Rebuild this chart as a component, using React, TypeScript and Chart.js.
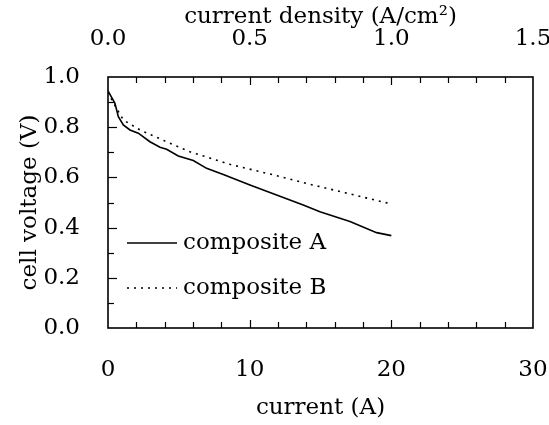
import React, { useEffect, useRef } from "react";
import { Chart, registerables } from "chart.js";

Chart.register(...registerables);

const currentA = [0, 0.49, 0.73, 1.08, 1.55, 2.14, 2.96, 3.67, 4.14, 4.96, 6.02, 6.96, 8.14, 10.02, 11.9, 13.78, 14.96, 17.08, 18.96, 20.0];
const voltageA = [0.945, 0.895, 0.842, 0.809, 0.789, 0.776, 0.742, 0.72, 0.712, 0.685, 0.667, 0.636, 0.612, 0.57, 0.53, 0.49, 0.463, 0.424, 0.38, 0.368];
const currentB = [0, 0.3, 0.61, 1.08, 2.26, 4.14, 5.79, 8.6, 11.67, 14.0, 16.73, 20.0];
const voltageB = [0.94, 0.905, 0.875, 0.829, 0.789, 0.742, 0.702, 0.652, 0.61, 0.576, 0.539, 0.494];
const seriesNames = ["composite A", "composite B"];
const xTicks = [0, 10, 20, 30];
const yTicks = [0.0, 0.2, 0.4, 0.6, 0.8, 1.0];
const topTicks = [0.0, 0.5, 1.0, 1.5];

const FONT = "'DejaVu Serif', serif";
const FS = 23;

const tickPlugin = {
  id: "insideTicks",
  afterDraw(chart: any) {
    const { ctx, chartArea } = chart;
    const x = chart.scales.x;
    const y = chart.scales.y;
    ctx.save();
    ctx.strokeStyle = "#000";
    ctx.lineWidth = 1.6;
    ctx.strokeRect(chartArea.left, chartArea.top, chartArea.right - chartArea.left, chartArea.bottom - chartArea.top);
    ctx.lineWidth = 1.2;
    for (let v = 2; v < 30; v += 2) {
      const px = Math.round(x.getPixelForValue(v)) + 0.5;
      const len = v % 10 === 0 ? 8 : 6;
      ctx.beginPath();
      ctx.moveTo(px, chartArea.bottom);
      ctx.lineTo(px, chartArea.bottom - len);
      ctx.moveTo(px, chartArea.top);
      ctx.lineTo(px, chartArea.top + len);
      ctx.stroke();
    }
    for (let i = 1; i < 10; i++) {
      const v = i / 10;
      const py = Math.round(y.getPixelForValue(v)) + 0.5;
      const len = i % 2 === 0 ? 9 : 6;
      ctx.beginPath();
      ctx.moveTo(chartArea.left, py);
      ctx.lineTo(chartArea.left + len, py);
      ctx.stroke();
    }
    // legend
    const ds = chart.data.datasets;
    const rows = [243, 288];
    ds.forEach((d: any, i: number) => {
      const ly = rows[i];
      ctx.beginPath();
      ctx.lineWidth = d.borderWidth;
      ctx.setLineDash(d.borderDash || []);
      ctx.moveTo(127, ly);
      ctx.lineTo(177, ly);
      ctx.stroke();
      ctx.setLineDash([]);
      ctx.fillStyle = "#000";
      ctx.font = `${FS}px ${FONT}`;
      ctx.textBaseline = "middle";
      ctx.textAlign = "left";
      ctx.fillText(d.label, 183, ly);
    });
    ctx.restore();
  },
};

const noPad = (s: any) => {
  s.paddingLeft = 0;
  s.paddingRight = 0;
  s.paddingTop = 0;
  s.paddingBottom = 0;
};

export default function App() {
  const ref = useRef<HTMLCanvasElement>(null);
  useEffect(() => {
    if (!ref.current) return;
    const chart = new Chart(ref.current, {
      type: "line",
      data: {
        datasets: [
          {
            label: seriesNames[0],
            data: currentA.map((c, i) => ({ x: c, y: voltageA[i] })),
            borderColor: "#000",
            borderWidth: 1.6,
            pointRadius: 0,
            tension: 0,
            fill: false,
          },
          {
            label: seriesNames[1],
            data: currentB.map((c, i) => ({ x: c, y: voltageB[i] })),
            borderColor: "#000",
            borderWidth: 1.6,
            borderDash: [2, 5],
            pointRadius: 0,
            tension: 0,
            fill: false,
          },
        ],
      },
      options: {
        responsive: false,
        animation: false,
        layout: { padding: { left: 0, right: 16, top: 0, bottom: 0 } },
        plugins: { legend: { display: false }, tooltip: { enabled: false } },
        scales: {
          x: {
            type: "linear",
            position: "bottom",
            min: 0,
            max: 30,
            afterBuildTicks: (s: any) => { s.ticks = xTicks.map((v) => ({ value: v })); },
            afterFit: (s: any) => { s.height = 97; noPad(s); },
            grid: { display: false, drawTicks: false },
            border: { display: false },
            ticks: { color: "#000", font: { family: FONT, size: FS }, padding: 28, maxRotation: 0 },
            title: { display: true, text: "current (A)", color: "#000", font: { family: FONT, size: FS }, padding: { bottom: 3, top: 0 } },
          },
          x2: {
            type: "linear",
            position: "top",
            min: 0,
            max: 1.5,
            afterBuildTicks: (s: any) => { s.ticks = topTicks.map((v) => ({ value: v })); },
            afterFit: (s: any) => { s.height = 77; noPad(s); },
            grid: { display: false, drawTicks: false },
            border: { display: false },
            ticks: { color: "#000", font: { family: FONT, size: FS }, padding: 24, maxRotation: 0, callback: (v: any) => Number(v).toFixed(1) },
            title: { display: true, text: "current density (A/cm²)", color: "#000", font: { family: FONT, size: FS }, padding: { top: 3, bottom: 0 } },
          },
          y: {
            type: "linear",
            position: "left",
            min: 0,
            max: 1,
            afterBuildTicks: (s: any) => { s.ticks = yTicks.map((v) => ({ value: v })); },
            afterFit: (s: any) => { s.width = 108; noPad(s); },
            grid: { display: false, drawTicks: false },
            border: { display: false },
            ticks: { color: "#000", font: { family: FONT, size: FS }, padding: 28, callback: (v: any) => Number(v).toFixed(1) },
            title: { display: true, text: "cell voltage (V)", color: "#000", font: { family: FONT, size: FS }, padding: { top: 16, bottom: 0 } },
          },
        },
      },
      plugins: [tickPlugin],
    } as any);
    return () => chart.destroy();
  }, []);
  return (
    <div style={{ position: "fixed", left: 0, top: 0, width: 549, height: 425, background: "#fff" }}>
      <canvas ref={ref} width={549} height={425} style={{ width: 549, height: 425, display: "block" }} />
    </div>
  );
}
